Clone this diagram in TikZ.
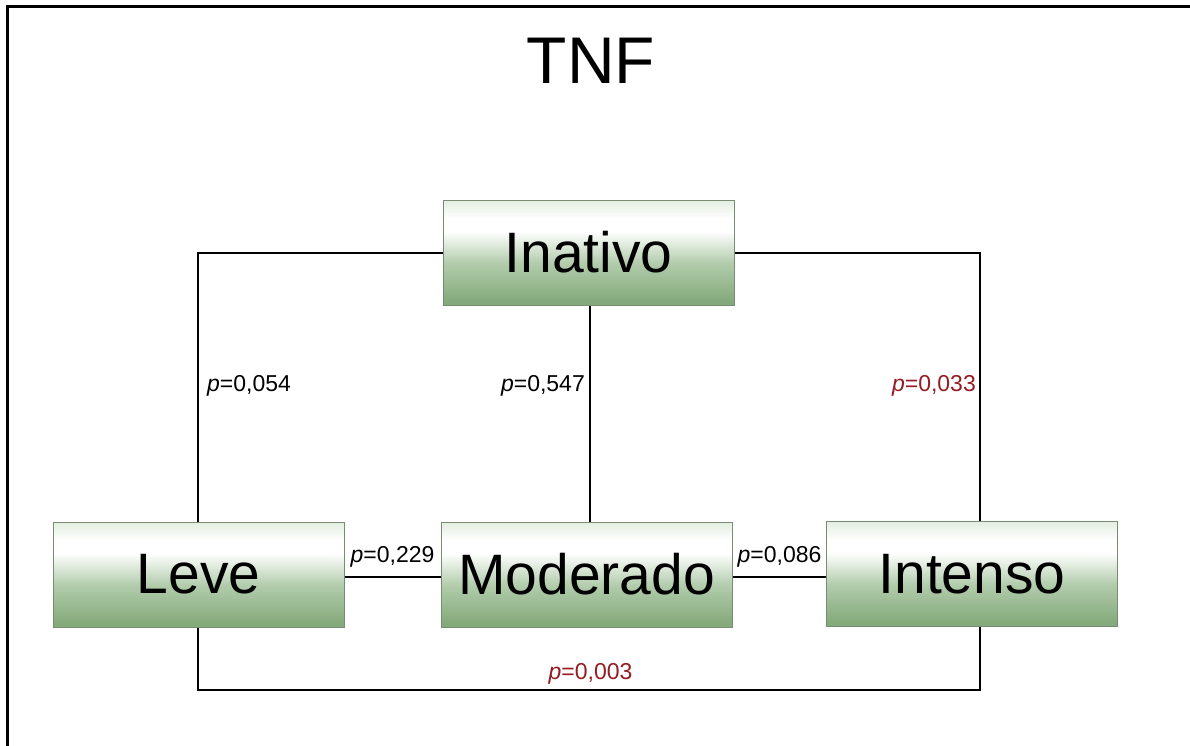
\documentclass[tikz,border=0pt]{standalone}
\usepackage{fontspec}
\setmainfont{Liberation Sans}
\definecolor{boxlt}{RGB}{228,238,225}
\definecolor{boxmid}{RGB}{178,204,172}
\definecolor{boxbot}{RGB}{132,170,123}
\definecolor{boxedge}{RGB}{120,140,116}
\definecolor{sigred}{RGB}{150,28,36}
% vertical fill of the stage boxes: node spans 25bp (bottom) to 75bp (top)
\pgfdeclareverticalshading{stagefill}{100bp}{%
  color(0bp)=(boxbot); color(27bp)=(boxbot); color(45bp)=(boxmid);
  color(60bp)=(white); color(66bp)=(white); color(75bp)=(boxlt);
  color(100bp)=(boxlt)}
\tikzset{
  stage/.style={rectangle, draw=boxedge, line width=1pt,
    shading=stagefill,
    minimum width=291pt, minimum height=105pt, inner sep=0pt,
    font=\fontsize{57}{60}\selectfont},
  link/.style={line width=2pt, black},
  pval/.style={font=\fontsize{23}{26}\selectfont, inner sep=0pt},
  sig/.style={pval, text=sigred}
}
\begin{document}
\begin{tikzpicture}[x=1pt,y=-1pt]
\useasboundingbox (0,0) rectangle (1190,745);
\fill[white] (0,0) rectangle (1190,745);
% outer frame (top and left edges visible)
\draw[line width=3pt] (7.5,760) -- (7.5,6.5) -- (1200,6.5);

\node[font=\fontsize{66}{70}\selectfont] (title) at (591,61) {TNF};

\node[stage] (inativo)  at (588.5,252.5) {Inativo};
\node[stage] (leve)     at (198.5,574.5) {Leve};
\node[stage] (moderado) at (586.5,574.5) {Moderado};
\node[stage] (intenso)  at (972,574)     {Intenso};

\coordinate (tl) at (198,252.5);
\coordinate (tr) at (980,252.5);
\coordinate (bl) at (198,690);
\coordinate (br) at (980,690);

\draw[link] (inativo.west) -- (tl) -- (leve.north -| tl);
\draw[link] (inativo.east) -- (tr) -- (intenso.north -| tr);
\draw[link] (inativo.south -| 590,0) -- (moderado.north -| 590,0);
\draw[link] (leve.east |- 0,577) -- (moderado.west |- 0,577);
\draw[link] (moderado.east |- 0,577) -- (intenso.west |- 0,577);
\draw[link] (leve.south -| bl) -- (bl) -- (br) -- (intenso.south -| br);

\node[pval, anchor=west] (p1) at (207,386) {\textit{p}=0,054};
\node[pval, anchor=east] (p2) at (585,386) {\textit{p}=0,547};
\node[sig,  anchor=east] (p3) at (976,386) {\textit{p}=0,033};
\node[pval] (p4) at (392.5,557) {\textit{p}=0,229};
\node[pval] (p5) at (779.5,557) {\textit{p}=0,086};
\node[sig]  (p6) at (590.5,674) {\textit{p}=0,003};
\end{tikzpicture}
\end{document}
